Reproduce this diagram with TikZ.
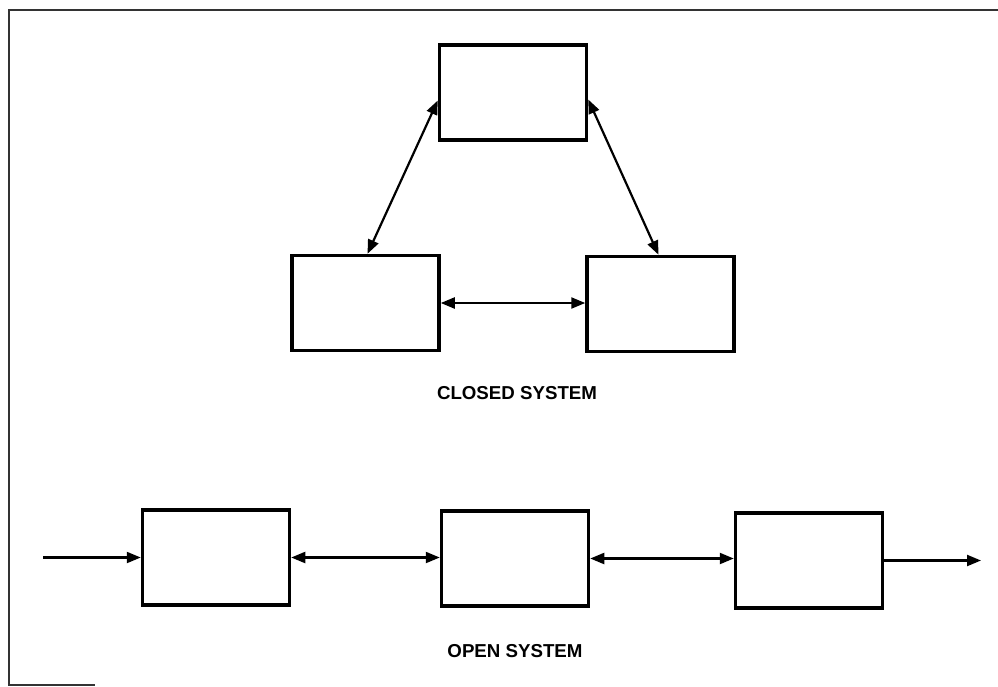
\documentclass[tikz,border=0pt]{standalone}
\usepackage{fontspec}
\setmainfont{Liberation Sans}
\usetikzlibrary{arrows.meta}
\tikzset{
  sysbox/.style={draw, line width=3.5pt, minimum width=147pt, minimum height=95pt, inner sep=0pt},
  link/.style={line width=2.2pt, {Triangle[length=14pt,width=11pt]}-{Triangle[length=14pt,width=11pt]}},
  flow/.style={line width=2.2pt, -{Triangle[length=14pt,width=11pt]}},
  frame/.style={line width=1.6pt, black!80},
  caption/.style={font=\bfseries\fontsize{18.7}{21}\selectfont, inner sep=0pt}
}
\begin{document}
\begin{tikzpicture}[x=1pt, y=-1pt]
  \useasboundingbox (0,0) rectangle (998,686);
  % partial page frame
  \draw[frame] (998,10) -- (9,10) -- (9,685) -- (95,685);

  % closed system: three mutually linked units
  \node[sysbox] (top)  at (513,92.5) {};
  \node[sysbox] (midl) at (365.5,303) {};
  \node[sysbox] (midr) at (660.5,304) {};
  \draw[link] ([yshift=-8pt]top.west) -- ([xshift=2pt]midl.north);
  \draw[link] ([yshift=-7pt]top.east) -- ([xshift=-2pt]midr.north);
  \draw[link] (midl.east) -- (midr.west |- midl.east);
  \node[caption] (closed) at (517,393) {CLOSED SYSTEM};

  % open system: a chain with input and output
  \node[sysbox] (b1) at (216,557.5) {};
  \node[sysbox] (b2) at (515,558.5) {};
  \node[sysbox] (b3) at (809,560.5) {};
  \coordinate (in)  at (43,557.5);
  \coordinate (out) at (981,560.5);
  \draw[flow] (in) -- (b1.west);
  \draw[link] (b1.east) -- (b2.west |- b1.east);
  \draw[link] (b2.east) -- (b3.west |- b2.east);
  \draw[flow] (b3.east) -- (out);
  \node[caption] (open) at (515,651) {OPEN SYSTEM};
\end{tikzpicture}
\end{document}
